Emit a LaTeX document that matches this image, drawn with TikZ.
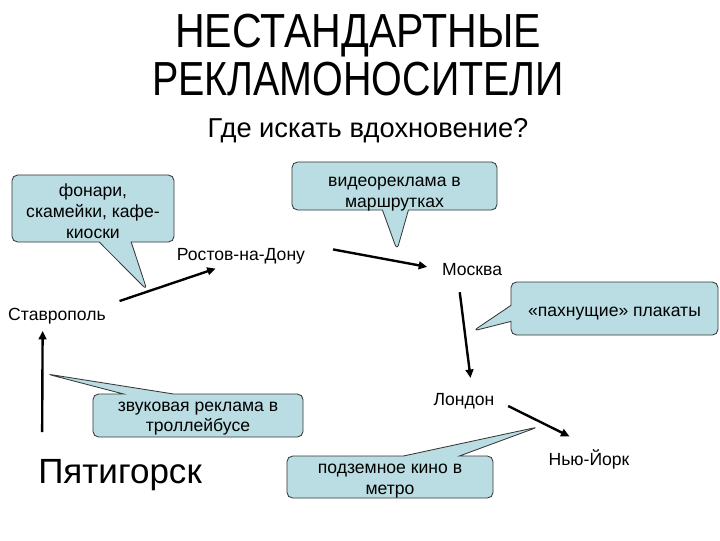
\documentclass[tikz,border=0pt]{standalone}
\usepackage{fontspec}
\setmainfont{Liberation Sans}
\usetikzlibrary{arrows.meta,calc,shapes.callouts}

\definecolor{bubblefill}{RGB}{185,221,226}
\definecolor{bubbleline}{RGB}{55,55,55}

\begin{document}
\begin{tikzpicture}[x=0.025cm,y=-0.025cm,>={Triangle[length=6pt,width=5.5pt]},
	city/.style={anchor=base,inner sep=2pt,font=\fontsize{12.5}{15}\selectfont},
	bubble/.style={rectangle callout,draw=bubbleline,fill=bubblefill,line width=0.6pt,
		rounded corners=4pt,align=center,inner xsep=2pt,inner ysep=1pt,text depth=0pt,
		font=\fontsize{12.5}{14.6}\selectfont},
	route/.style={->,line width=1.7pt}]
		
		\useasboundingbox (0,0) rectangle (720,540);
		
		% Title
		\node[anchor=base,font=\fontsize{34}{34}\selectfont] (title-top) at (358,47)
		{\scalebox{0.86}[1]{НЕСТАНДАРТНЫЕ}};
		\node[anchor=base,font=\fontsize{34}{34}\selectfont] (title-bottom) at (358,95)
		{\scalebox{0.825}[1]{РЕКЛАМОНОСИТЕЛИ}};
		\node[anchor=base,font=\fontsize{19.4}{22}\selectfont] (question) at (368,137)
		{Где искать вдохновение?};
		
		% Cities
		\node[city] (stavropol) at (57,320) {Ставрополь};
		\node[city] (rostov) at (241,260) {Ростов-на-Дону};
		\node[city] (moskva) at (472,275) {Москва};
		\node[city] (london) at (464,405) {Лондон};
		\node[city] (newyork) at (589,465) {Нью-Йорк};
		\node[city,font=\fontsize{24.9}{28}\selectfont] (pyatigorsk) at (120,483) {Пятигорск};
		
		% Route
		\draw[route,shorten <=8pt,shorten >=4pt]
		(stavropol.north east) -- ([xshift=-0.5cm]rostov.south);
		\draw[route,shorten <=18pt,shorten >=8.5pt]
		(rostov.north east) -- (moskva.west);
		\draw[route,shorten <=10pt,shorten >=8.5pt]
		([xshift=-0.35cm]moskva.south) -- ([xshift=0.2cm]london.north);
		\draw[route,shorten <=8.5pt,shorten >=15.5pt]
		(london.east) -- (newyork.north);
		\draw[route,shorten >=3pt]
		($(pyatigorsk.base west)+(7,-51)$) -- ($(stavropol.south west)+(37.5,0)$);
		
		% Ideas
		\node[bubble,minimum width=4.05cm,minimum height=1.675cm,text height=42pt,
		callout absolute pointer={(147,290)},callout pointer width=0.8cm]
		(lamps) at (93,208.5) {фонари,\\скамейки, кафе-\\киоски};
		\node[bubble,minimum width=5.125cm,minimum height=1.2cm,text height=29.9pt,
		callout absolute pointer={(397,250)},callout pointer width=0.65cm]
		(minibus) at (394.5,186) {видеореклама в\\маршрутках};
		\node[bubble,minimum width=5.175cm,minimum height=1.325cm,text height=10.7pt,
		callout absolute pointer={(473,331)},callout pointer width=0.4cm]
		(scented) at (614.5,308.5) {«пахнущие» плакаты};
		\node[bubble,minimum width=5.25cm,minimum height=1.075cm,text height=22.8pt,
		callout absolute pointer={(47,374)},callout pointer width=1.25cm]
		(trolley) at (198,415.5) {звуковая реклама в\\троллейбусе};
		\node[bubble,minimum width=5.15cm,minimum height=1.05cm,text height=24.2pt,
		callout absolute pointer={(538,427)},callout pointer width=1.4cm]
		(metro) at (390,477) {подземное кино в\\метро};
		
	\end{tikzpicture}
\end{document}
